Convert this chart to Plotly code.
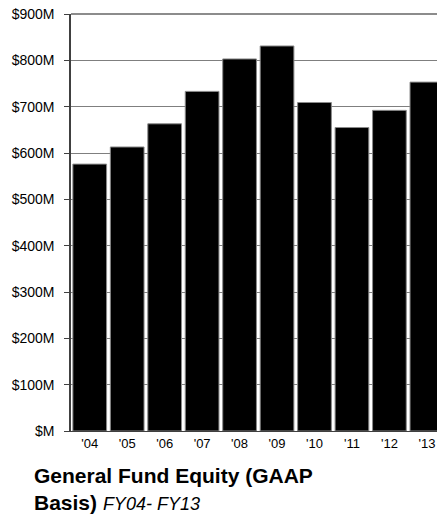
import plotly.graph_objects as go

years = ["'04", "'05", "'06", "'07", "'08", "'09", "'10", "'11", "'12", "'13"]
equity_musd = [576, 613, 663, 733, 803, 831, 709, 655, 692, 753]
ytick_vals = [0, 100, 200, 300, 400, 500, 600, 700, 800, 900]
ytick_text = ["$M", "$100M", "$200M", "$300M", "$400M", "$500M", "$600M", "$700M", "$800M", "$900M"]

fig = go.Figure()
fig.add_trace(go.Bar(
    x=list(range(len(years))), y=equity_musd,
    marker=dict(color="black", line=dict(color="#8a8a8a", width=1)),
    hoverinfo="skip",
))

fig.update_layout(
    width=437, height=515,
    margin=dict(l=71, r=0, t=14, b=84),
    paper_bgcolor="white", plot_bgcolor="white",
    bargap=0.1, showlegend=False,
    font=dict(family="Liberation Sans, Arial, sans-serif", color="black", size=13),
    xaxis=dict(
        range=[-0.5, 9.27], tickmode="array",
        tickvals=list(range(len(years))), ticktext=years,
        tickfont=dict(size=13),
        showgrid=False, showline=True, linecolor="#404040", linewidth=1,
        ticks="", zeroline=False, fixedrange=True,
    ),
    yaxis=dict(
        range=[0, 900], tickmode="array", tickvals=ytick_vals, ticktext=ytick_text,
        tickfont=dict(size=14),
        showgrid=True, gridcolor="#7f7f7f", gridwidth=1,
        showline=True, linecolor="#404040", linewidth=1.5,
        ticks="outside", ticklen=5, tickcolor="#404040",
        ticklabelstandoff=7,
        zeroline=False, fixedrange=True,
    ),
    shapes=[dict(
        type="line", xref="x domain", yref="y domain", x0=0, x1=1, y0=1, y1=1,
        line=dict(color="#8c8c8c", width=2), layer="above",
    )],
    annotations=[dict(
        xref="paper", yref="paper", x=-0.1066, y=-0.074,
        xanchor="left", yanchor="top", align="left", showarrow=False,
        text="<b>General Fund Equity (GAAP<br>Basis)</b> <i><span style='font-size:18px'>FY04- FY13</span></i>",
        font=dict(size=21, family="Liberation Sans, Arial, sans-serif", color="black"),
    )],
)

fig.write_html("out.html")
